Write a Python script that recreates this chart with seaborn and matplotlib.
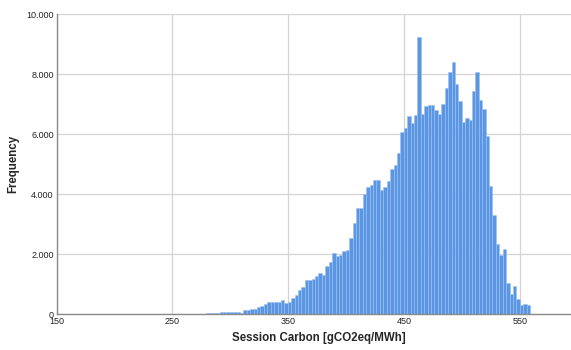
import numpy as np
import pandas as pd
import seaborn as sns
from matplotlib import pyplot as plt
from matplotlib.ticker import FuncFormatter

# bar heights, left to right
counts_tail = [5, 8, 10, 12, 15, 20, 30]
counts_low = [50, 60, 60, 70, 70, 80, 70, 70, 90, 60, 130, 150, 170, 170,
              240, 270, 330, 400]
counts_rise = [425, 400, 400, 470, 370, 400, 530, 640, 800, 910, 1130, 1150,
               1170, 1290, 1390, 1310, 1620, 1760, 2030, 1950, 1970, 2120,
               2150, 2560, 3060, 3530, 3550, 4000, 4240, 4300, 4470, 4480,
               4140, 4240, 4440, 4860, 4990, 5380]
counts_peak = [6080, 6210, 6610, 6390, 6660, 9240, 6690, 6930, 6990, 6970,
               6800, 6670, 7020, 7540, 8080, 8400, 7690, 7100, 6400, 6540,
               6470, 7430, 8080, 7160, 6830, 5930, 4270, 3320, 2360, 1990,
               2170, 1040, 690, 930, 520, 300, 360, 320]
counts = counts_tail + counts_low + counts_rise + counts_peak

bin_start = 261.2
bin_width = 2.945
edges = bin_start + bin_width * np.arange(len(counts) + 1)
centers = (edges[:-1] + edges[1:]) / 2
df = pd.DataFrame({'carbon': centers, 'n': counts})

x_ticks = [150, 250, 350, 450, 550]
y_ticks = [0, 2000, 4000, 6000, 8000, 10000]

sns.set_style('white')
plt.rcParams['font.family'] = ['Liberation Sans', 'DejaVu Sans']

fig = plt.figure(figsize=(5.71, 3.5), dpi=100)
ax = fig.add_axes([0.099, 0.102, 0.901, 0.857])

sns.histplot(data=df, x='carbon', weights='n', binwidth=bin_width,
             binrange=(edges[0], edges[-1]), ax=ax,
             color='#5a96e3', edgecolor='#9cc0ef', linewidth=0.4, alpha=1)

ax.set_xlim(150, 594)
ax.set_ylim(0, 10000)
ax.set_xticks(x_ticks)
ax.set_yticks(y_ticks)
ax.yaxis.set_major_formatter(FuncFormatter(lambda v, p: f'{int(v):,}'.replace(',', '.')))
ax.grid(True, color='#d4d4d4', linewidth=0.9)
ax.set_axisbelow(True)
ax.tick_params(axis='both', length=0, labelsize=6.5, colors='#222222', pad=2)

for s in ['top', 'right']:
    ax.spines[s].set_visible(False)
for s in ['left', 'bottom']:
    ax.spines[s].set_color('#8a8a8a')
    ax.spines[s].set_linewidth(1.0)

ax.set_xlabel('Session Carbon [gCO2eq/MWh]', fontsize=8.3, fontweight='bold')
ax.xaxis.set_label_coords(0.509, -0.06)
ax.set_ylabel('Frequency', fontsize=8.3, fontweight='bold', labelpad=5)

plt.savefig('out.png', dpi=100)
